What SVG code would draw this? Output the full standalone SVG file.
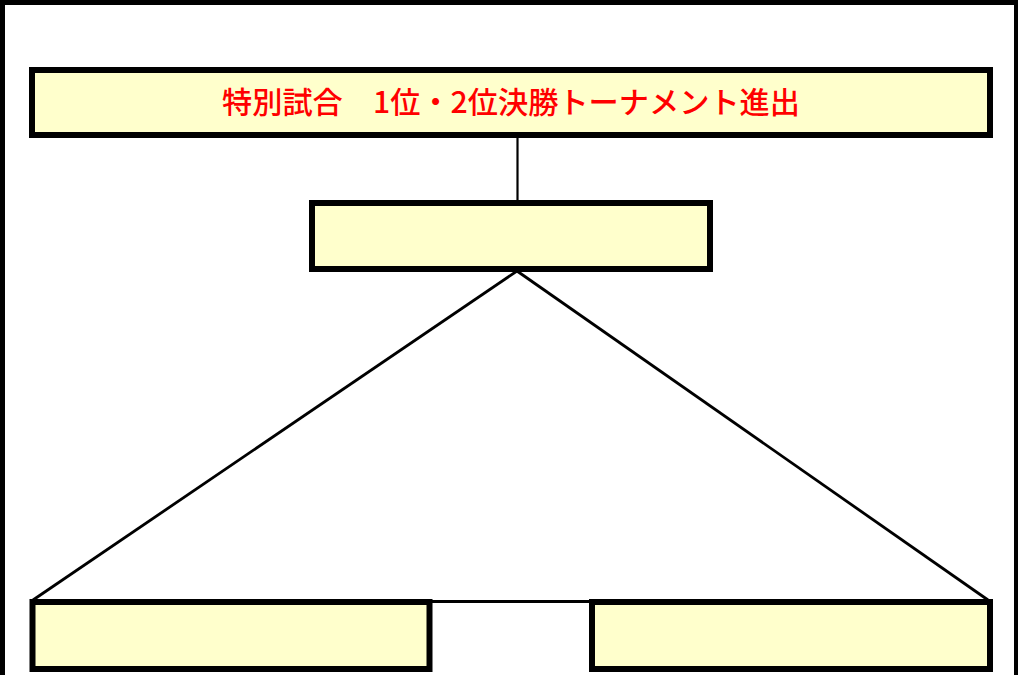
<svg xmlns="http://www.w3.org/2000/svg" width="1018" height="675" viewBox="0 0 1018 675">
<style>
.box{fill:#FFFFCC;stroke:#000;stroke-width:6}
.con{stroke:#000;fill:none}
.title{font-family:"Noto Sans CJK JP","Noto Sans CJK SC",sans-serif;font-size:30px;font-weight:500;fill:#FF0000;text-anchor:middle}
</style>
<rect x="0" y="0" width="1018" height="675" fill="#FFFFFF"/>
<rect id="frame" x="2.5" y="2.5" width="1014" height="700" fill="none" stroke="#000" stroke-width="5"/>
<g id="connectors">
<line class="con" x1="517.5" y1="138" x2="517.5" y2="200" stroke-width="2.2"/>
<line class="con" x1="517" y1="271" x2="33" y2="600" stroke-width="2.8"/>
<line class="con" x1="517" y1="271" x2="988" y2="600" stroke-width="2.8"/>
<line class="con" x1="432" y1="601.5" x2="590" y2="601.5" stroke-width="3"/>
</g>
<g id="node-title">
<rect class="box" x="32" y="70" width="958" height="65"/>
<text class="title" x="511" y="113" textLength="578" lengthAdjust="spacingAndGlyphs">特別試合　1位・2位決勝トーナメント進出</text>
</g>
<g id="node-final">
<rect class="box" x="312" y="203" width="398" height="66" stroke-width="5.5"/>
</g>
<g id="node-left">
<rect class="box" x="32.5" y="602" width="397" height="67"/>
</g>
<g id="node-right">
<rect class="box" x="592" y="602" width="398" height="67"/>
</g>
</svg>
